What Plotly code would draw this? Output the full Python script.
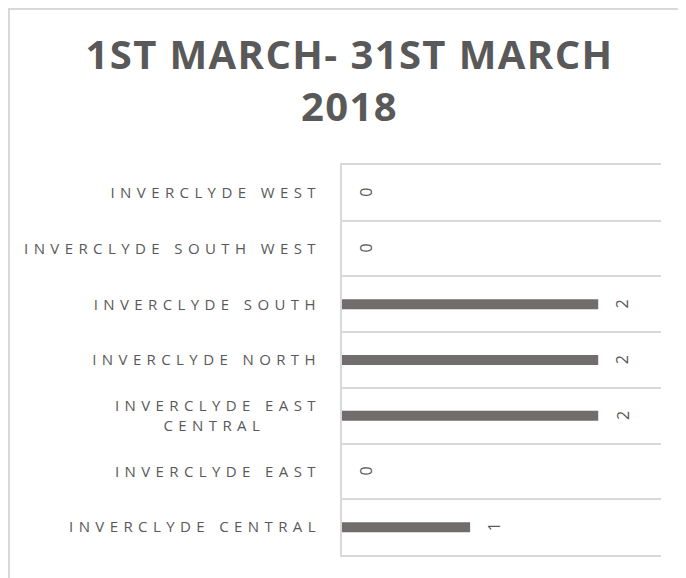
import plotly.graph_objects as go

categories = ["INVERCLYDE CENTRAL", "INVERCLYDE EAST", "INVERCLYDE EAST CENTRAL",
              "INVERCLYDE NORTH", "INVERCLYDE SOUTH", "INVERCLYDE SOUTH WEST", "INVERCLYDE WEST"]
tick_labels = ["INVERCLYDE CENTRAL", "INVERCLYDE EAST",
               "INVERCLYDE EAST<br>CENTRAL" + "&nbsp;" * 6,
               "INVERCLYDE NORTH", "INVERCLYDE SOUTH", "INVERCLYDE SOUTH WEST", "INVERCLYDE WEST"]
values = [1, 0, 2, 2, 2, 0, 0]
title_text = "1ST MARCH- 31ST MARCH<br>2018"

TXT = "#595959"
GRID = "#d9d9d9"
BAR = "#716d6c"
LS = "letter-spacing:5.4px"

# the page body has an 8px margin: figure spans page x 8..686, y 8..578
W, H = 678, 570
PL, PR, PT, PB = 342 - 8, 661 - 8, 165 - 8, 555 - 8   # plot area in figure px


def spaced(t, ls=LS):
    return "<br>".join(f'<span style="{ls}">{p}</span>' for p in t.split("<br>"))


fig = go.Figure()
fig.add_trace(go.Bar(
    y=categories, x=values, orientation="h",
    marker=dict(color=BAR, line=dict(width=0)),
    width=0.18, hoverinfo="skip",
))

for c, v in zip(categories, values):
    fig.add_annotation(x=v, y=c, xref="x", yref="y", text=str(v), showarrow=False,
                       textangle=-90, xshift=24, xanchor="center", yanchor="middle",
                       font=dict(family="Open Sans", size=16, color=TXT))

fig.update_layout(
    width=W, height=H,
    margin=dict(l=PL, r=W - PR, t=PT, b=H - PB),
    paper_bgcolor="white", plot_bgcolor="white",
    showlegend=False,
    title=dict(text=spaced(title_text, "letter-spacing:1.4px"), x=341.5 / W, xref="container",
               xanchor="center", y=1 - 61 / H, yref="container", yanchor="top",
               font=dict(family="Open Sans", size=40, color=TXT, weight=700)),
    xaxis=dict(range=[0, 2.49], showgrid=False, zeroline=False, showticklabels=False,
               showline=True, mirror=True, linecolor=GRID, linewidth=2, ticks="",
               fixedrange=True),
    yaxis=dict(type="category", categoryorder="array", categoryarray=categories,
               tickmode="array", tickvals=categories, ticktext=[spaced(t) for t in tick_labels],
               tickson="boundaries", showgrid=True, gridcolor=GRID, gridwidth=2,
               showline=True, linecolor=GRID, linewidth=2, ticks="",
               ticklabelstandoff=16,
               tickfont=dict(family="Open Sans", size=15, color=TXT)),
    shapes=[dict(type="rect", xref="paper", yref="paper",
                 x0=(1 - PL) / (PR - PL), x1=2.0, y0=-1.0, y1=(PB - 1) / (PB - PT),
                 line=dict(color=GRID, width=2), fillcolor="rgba(0,0,0,0)", layer="below")],
)

fig.write_html("out.html")
